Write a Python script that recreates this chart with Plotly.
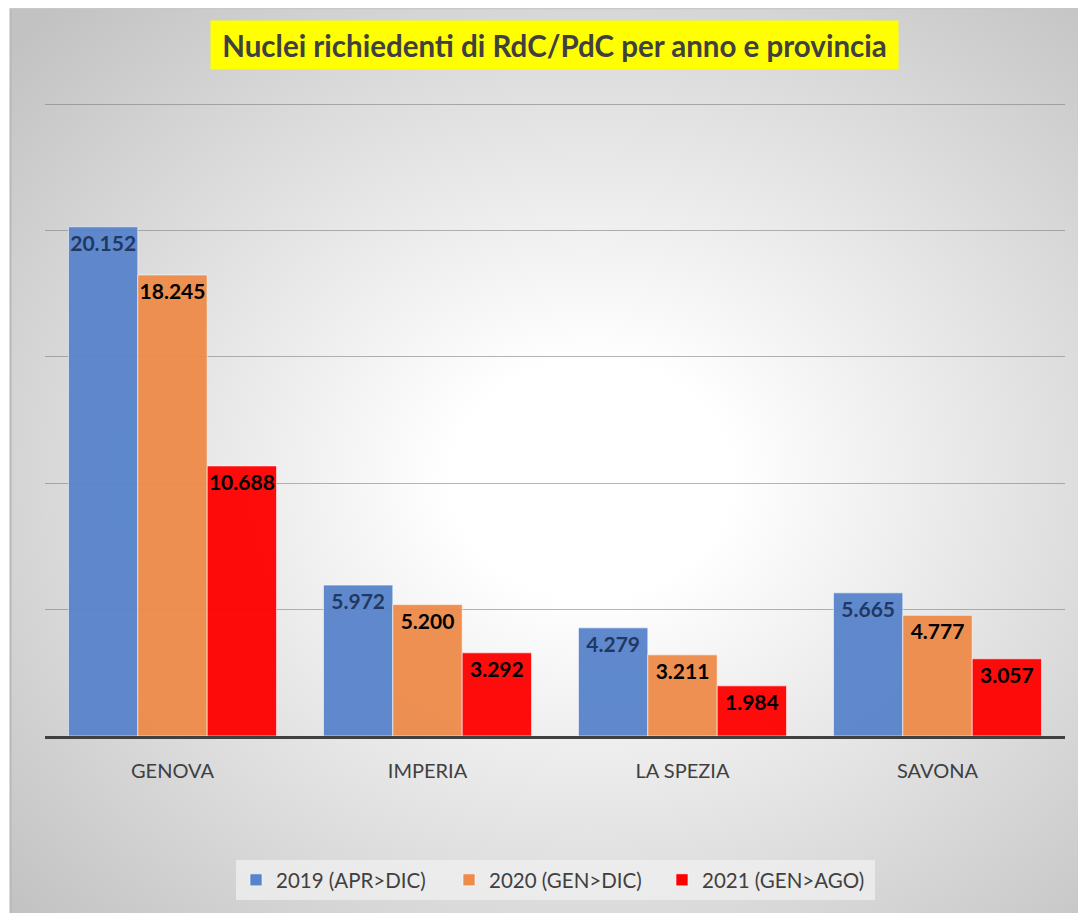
import base64
import plotly.graph_objects as go

# ---------------- data ----------------
province = ["GENOVA", "IMPERIA", "LA SPEZIA", "SAVONA"]
series_names = ["2019 (APR>DIC)", "2020 (GEN>DIC)", "2021 (GEN>AGO)"]
v2019 = [20152, 5972, 4279, 5665]
v2020 = [18245, 5200, 3211, 4777]
v2021 = [10688, 3292, 1984, 3057]
title_text = "Nuclei richiedenti di RdC/PdC per anno e provincia"

# ---------------- style ----------------
OFF = 8  # page body margin offset
W, H = 1086 - OFF, 913 - OFF
ML, MR, MT, MB = 45 - OFF, 21, 103 - OFF, 913 - 736
PW = W - ML - MR
PH = H - MT - MB

colors = ["#5884cb", "#ed8b4a", "#ff0000"]
label_colors = ["#1f3864", "#000000", "#000000"]
FONT = "Lato"


def px_to_paper_x(px):
    # px given in reference screenshot coordinates
    return (px - OFF - ML) / PW


def px_to_paper_y(py):
    return (H - MB - (py - OFF)) / PH


svg = """<svg xmlns='http://www.w3.org/2000/svg' width='1076' height='908' viewBox='0 0 1076 908' preserveAspectRatio='none'>
<defs><radialGradient id='g' cx='0.54' cy='0.52' r='0.72'>
<stop offset='0' stop-color='#ffffff'/>
<stop offset='0.18' stop-color='#ffffff'/>
<stop offset='1' stop-color='#c2c2c2'/>
</radialGradient></defs>
<rect x='0' y='0' width='1076' height='908' fill='url(#g)'/>
</svg>"""
svg_uri = "data:image/svg+xml;base64," + base64.b64encode(svg.encode()).decode()

fig = go.Figure()
for name, vals, col, lcol in zip(series_names, [v2019, v2020, v2021], colors, label_colors):
    fig.add_trace(go.Bar(
        x=province, y=vals, name=name,
        marker=dict(color=col, opacity=0.95, line=dict(color="rgba(255,255,255,0.6)", width=1)),
        texttemplate="%{y:,}", textposition="inside", insidetextanchor="end",
        textangle=0,
        textfont=dict(family=FONT, size=21, color=lcol, weight="bold"),
        constraintext="none",
        hoverinfo="x+y+name",
    ))

fig.update_layout(
    width=W, height=H,
    margin=dict(l=ML, r=MR, t=MT, b=MB, pad=0),
    paper_bgcolor="white",
    plot_bgcolor="rgba(0,0,0,0)",
    separators=",.",
    barmode="group",
    bargap=0.184,
    bargroupgap=0,
    font=dict(family=FONT, color="#404040"),
    showlegend=True,
    legend=dict(
        orientation="h", x=px_to_paper_x(555.5), xanchor="center",
        y=px_to_paper_y(880), yanchor="middle",
        bgcolor="rgba(240,240,240,0.75)",
        font=dict(family=FONT, size=20.5, color="#404040"),
        itemwidth=30, entrywidth=168, entrywidthmode="pixels",
        traceorder="normal",
    ),
    xaxis=dict(
        showline=True, linecolor="#404040", linewidth=3,
        ticks="", ticklabelstandoff=15,
        tickfont=dict(family=FONT, size=20, color="#404040"),
        showgrid=False, zeroline=False,
    ),
    yaxis=dict(
        range=[0, 25050], dtick=5000, showticklabels=False,
        showgrid=True, gridcolor="rgba(120,120,120,0.55)", gridwidth=1,
        zeroline=False, showline=False, ticks="",
    ),
    images=[dict(
        source=svg_uri, xref="paper", yref="paper",
        x=px_to_paper_x(10), y=px_to_paper_y(OFF),
        sizex=(1086 - 10) / PW, sizey=H / PH,
        xanchor="left", yanchor="top", sizing="stretch", layer="below",
    )],
    shapes=[
        dict(type="line", xref="paper", yref="paper",
             x0=px_to_paper_x(10.5), x1=px_to_paper_x(10.5),
             y0=px_to_paper_y(OFF), y1=px_to_paper_y(913),
             line=dict(color="#b8b8b8", width=2), layer="below"),
        dict(type="line", xref="paper", yref="paper",
             x0=px_to_paper_x(10), x1=px_to_paper_x(1086),
             y0=px_to_paper_y(OFF + 0.5), y1=px_to_paper_y(OFF + 0.5),
             line=dict(color="#c8c8c8", width=1.5), layer="below"),
    ],
    annotations=[dict(
        text="<b>" + title_text + "</b>",
        xref="paper", yref="paper",
        x=px_to_paper_x(554.5), y=px_to_paper_y(45),
        xanchor="center", yanchor="middle",
        showarrow=False,
        font=dict(family=FONT, size=29.5, color="#404040"),
        bgcolor="#ffff00", width=673, height=34, borderpad=7,
    )],
)

fig.write_html("out.html")
